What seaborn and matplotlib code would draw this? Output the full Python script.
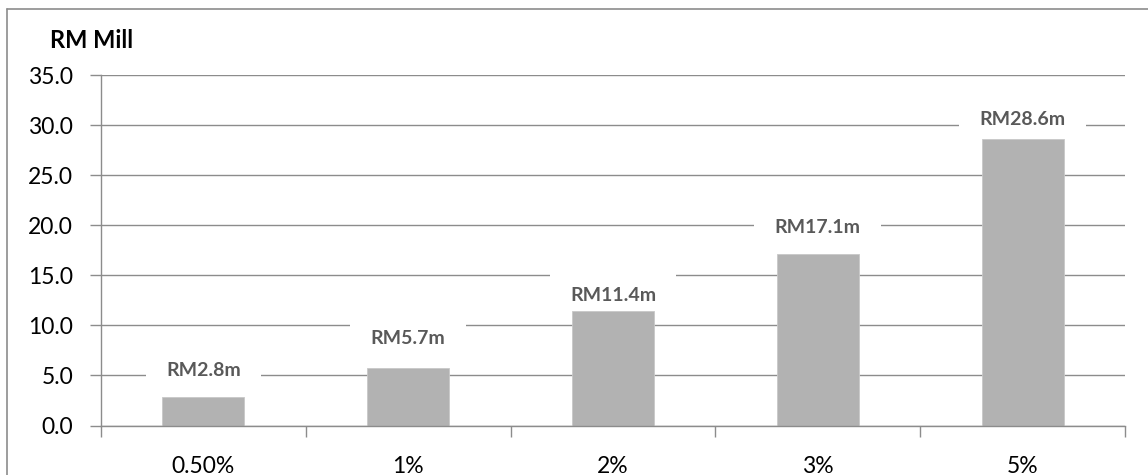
import matplotlib
matplotlib.use("Agg")
import matplotlib.pyplot as plt
import seaborn as sns
import pandas as pd
from matplotlib.lines import Line2D
from matplotlib.ticker import MultipleLocator, FixedLocator

categories = ["0.50%", "1%", "2%", "3%", "5%"]
values = [2.8, 5.7, 11.4, 17.1, 28.6]
labels = ["RM2.8m", "RM5.7m", "RM11.4m", "RM17.1m", "RM28.6m"]
label_y = [5.5, 8.7, 13.0, 19.8, 30.6]
y_title = "RM Mill"

sns.set_style("white")
plt.rcParams["font.family"] = ["Lato", "DejaVu Sans"]

df = pd.DataFrame({"cat": categories, "val": values})

fig = plt.figure(figsize=(11.48, 4.75), dpi=100)
ax = fig.add_axes([101 / 1148, 1 - 425.5 / 475, (1125 - 101) / 1148, (425.5 - 75) / 475])

sns.barplot(data=df, x="cat", y="val", color="#b2b2b2", width=0.4, ax=ax,
            saturation=1, edgecolor="#c8c8c8", linewidth=0.6, zorder=4)

grid_c = "#8c8c8c"
ax.set_ylim(0, 35)
ax.set_xlim(-0.5, len(categories) - 0.5)
ax.yaxis.set_major_locator(MultipleLocator(5))
ax.yaxis.set_major_formatter(matplotlib.ticker.FormatStrFormatter("%.1f"))
ax.grid(axis="y", color=grid_c, linewidth=1.0, zorder=0)
ax.set_axisbelow(True)
for s in ["top", "right"]:
    ax.spines[s].set_visible(False)
for s in ["left", "bottom"]:
    ax.spines[s].set_color(grid_c)
    ax.spines[s].set_linewidth(1.0)
    ax.spines[s].set_zorder(5)

ax.tick_params(axis="y", which="major", length=8, width=1.0, color=grid_c,
               labelsize=16.5, pad=12, labelcolor="#000000", left=True)
ax.tick_params(axis="x", which="major", length=0, labelsize=16.5, pad=22, labelcolor="#000000")
ax.xaxis.set_minor_locator(FixedLocator([i - 0.5 for i in range(len(categories) + 1)]))
ax.tick_params(axis="x", which="minor", length=8, width=1.0, color=grid_c, bottom=True)
ax.set_xlabel("")
ax.set_ylabel("")

for i, (lab, ly) in enumerate(zip(labels, label_y)):
    ax.text(i, ly, lab, ha="center", va="center", fontsize=14, fontweight="bold",
            color="#595959", zorder=3,
            bbox=dict(boxstyle="square,pad=1.05", facecolor="white", edgecolor="none"))

fig.text(50 / 1148, 1 - 41 / 475, y_title, ha="left", va="center",
         fontsize=17, fontweight="bold", color="#000000")

border_c = "#8c8c8c"
fig.add_artist(Line2D([7 / 1148, 1], [1 - 9 / 475, 1 - 9 / 475], color=border_c, linewidth=1.2,
                      transform=fig.transFigure))
fig.add_artist(Line2D([7 / 1148, 7 / 1148], [0, 1 - 9 / 475], color=border_c, linewidth=1.2,
                      transform=fig.transFigure))

fig.savefig("out.png", dpi=100)
